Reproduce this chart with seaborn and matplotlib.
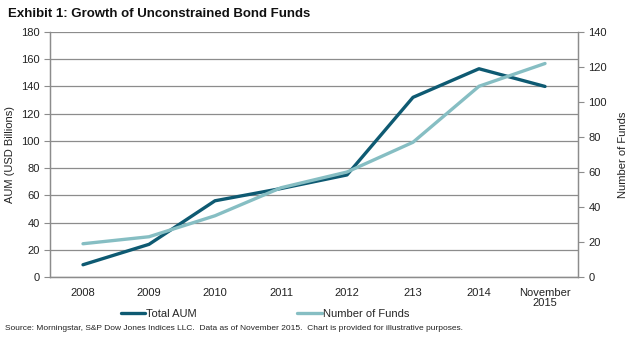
import matplotlib
matplotlib.use("Agg")
import matplotlib.pyplot as plt
import seaborn as sns
import pandas as pd
import numpy as np

categories = ["2008", "2009", "2010", "2011", "2012", "213", "2014", "November\n2015"]
total_aum = [9, 24, 56, 65, 75, 132, 153, 140]
num_funds = [19, 23, 35, 51, 60, 77, 109, 122]

sns.set_theme(style="white")
plt.rcParams['font.family'] = ['Liberation Sans', 'DejaVu Sans']

dark = "#0e5a72"
light = "#86bec3"
grey = "#8c8c8c"

fig = plt.figure(figsize=(6.33, 3.4), dpi=100)
ax = fig.add_axes([50/633, 1-277/340, 528/633, 245/340])
ax2 = ax.twinx()

x = np.arange(len(categories))
df = pd.DataFrame({"x": x, "aum": total_aum, "funds": num_funds})

sns.lineplot(data=df, x="x", y="aum", ax=ax, color=dark, linewidth=2.4, label="Total AUM", legend=False)
sns.lineplot(data=df, x="x", y="funds", ax=ax2, color=light, linewidth=2.4, label="Number of Funds", legend=False)

ax.set_xlim(-0.5, len(categories) - 0.5)
ax.set_ylim(0, 180)
ax.set_yticks(range(0, 181, 20))
ax2.set_ylim(0, 140)
ax2.set_yticks(range(0, 141, 20))

ax.set_xticks(x)
ax.set_xticklabels(categories, fontsize=8, color="#222222", linespacing=1.0)
ax.set_xticks(np.arange(-0.5, len(categories), 1), minor=True)
ax.tick_params(axis="x", which="major", length=0, pad=8)
ax.tick_params(axis="x", which="minor", length=4, color=grey, width=0.8, direction="out")
ax.tick_params(axis="y", which="major", length=4, color=grey, width=0.8, direction="out", labelsize=8, labelcolor="#222222", left=True)
ax2.tick_params(axis="y", which="major", length=4, color=grey, width=0.8, direction="out", labelsize=8, labelcolor="#222222", right=True)

ax.set_xlabel("")
ax.set_ylabel("AUM (USD Billions)", fontsize=8, color="#222222", labelpad=4)
ax2.set_ylabel("Number of Funds", fontsize=8, color="#222222", labelpad=8)

ax.grid(axis="y", color=grey, linewidth=0.9)
ax.set_axisbelow(True)
for a in (ax, ax2):
    a.spines["top"].set_visible(False)
    for s in ["left", "right", "bottom"]:
        a.spines[s].set_color(grey)
        a.spines[s].set_linewidth(0.9)
ax2.grid(False)

fig.text(8/633, 1-14/340, "Exhibit 1: Growth of Unconstrained Bond Funds", fontsize=9.5, fontweight="bold", va="center", ha="left", color="#111111")

h1, l1 = ax.get_legend_handles_labels()
h2, l2 = ax2.get_legend_handles_labels()
fig.legend(h1 + h2, l1 + l2, loc="center", bbox_to_anchor=(265/633, 1-314/340), ncol=2, frameon=False,
           fontsize=8, handlelength=2.2, handletextpad=0.1, columnspacing=9.0)

fig.text(5/633, 1-328/340, "Source: Morningstar, S&P Dow Jones Indices LLC.  Data as of November 2015.  Chart is provided for illustrative purposes.",
         fontsize=6.0, va="center", ha="left", color="#222222")

fig.savefig("out.png", dpi=100)
